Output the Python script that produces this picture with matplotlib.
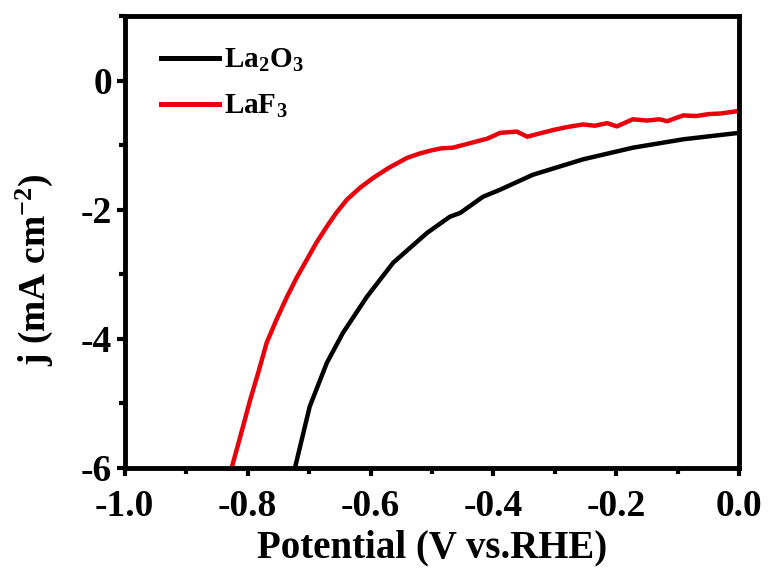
import numpy as np
import matplotlib
matplotlib.use("Agg")
import matplotlib.pyplot as plt
from matplotlib.ticker import MultipleLocator, FormatStrFormatter

plt.rcParams["font.family"] = ["Liberation Serif", "DejaVu Serif"]
plt.rcParams["font.weight"] = "bold"
plt.rcParams["mathtext.fontset"] = "custom"
plt.rcParams["mathtext.rm"] = "Liberation Serif:bold"
plt.rcParams["mathtext.default"] = "rm"
plt.rcParams["axes.unicode_minus"] = False

# La2O3 (black)
la2o3_v = [-0.723, -0.699, -0.671, -0.645, -0.606, -0.563, -0.508, -0.471,
           -0.454, -0.417, -0.389, -0.336, -0.254, -0.173, -0.091, 0.0]
la2o3_j = [-6.00, -5.05, -4.37, -3.91, -3.35, -2.82, -2.36, -2.11,
           -2.05, -1.80, -1.69, -1.46, -1.22, -1.04, -0.91, -0.81]

# LaF3 (red), noisy trace read point by point
laf3_v = [-0.826, -0.811, -0.796, -0.782, -0.769, -0.752, -0.736, -0.720,
          -0.704, -0.688, -0.671, -0.655, -0.638, -0.617, -0.596, -0.570,
          -0.541, -0.520, -0.500, -0.485, -0.466, -0.450, -0.430, -0.410,
          -0.389, -0.375, -0.362, -0.345, -0.325, -0.300, -0.280, -0.254,
          -0.235, -0.215, -0.199, -0.185, -0.173, -0.150, -0.130, -0.117,
          -0.100, -0.091, -0.070, -0.050, -0.030, -0.015, 0.0]
laf3_j = [-6.00, -5.48, -4.95, -4.50, -4.06, -3.68, -3.35, -3.05,
          -2.78, -2.51, -2.26, -2.04, -1.84, -1.66, -1.51, -1.35,
          -1.20, -1.13, -1.08, -1.05, -1.04, -1.00, -0.95, -0.90,
          -0.81, -0.80, -0.79, -0.87, -0.82, -0.76, -0.72, -0.68,
          -0.70, -0.66, -0.71, -0.65, -0.60, -0.62, -0.60, -0.63,
          -0.57, -0.54, -0.55, -0.52, -0.51, -0.49, -0.47]

fig = plt.figure(figsize=(7.7, 5.7), dpi=100)
ax = fig.add_axes([0.162, 0.179, 0.798, 0.793])

ax.plot(la2o3_v, la2o3_j, color="black", lw=3.2, label="La$_2$O$_3$")
ax.plot(laf3_v, laf3_j, color="#e8000b", lw=3.2, label="LaF$_3$")

ax.set_xlim(-1.0, 0.0)
ax.set_ylim(-6, 1)
ax.xaxis.set_major_locator(MultipleLocator(0.2))
ax.xaxis.set_minor_locator(MultipleLocator(0.1))
ax.yaxis.set_major_locator(MultipleLocator(2))
ax.yaxis.set_minor_locator(MultipleLocator(1))
ax.xaxis.set_major_formatter(FormatStrFormatter("%.1f"))

for s in ax.spines.values():
    s.set_linewidth(3.5)
ax.tick_params(which="major", direction="out", length=6, width=3,
               labelsize=27, pad=3, top=False, right=False)
ax.tick_params(axis="x", which="major", pad=9)
ax.tick_params(which="minor", direction="out", length=4, width=3,
               top=False, right=False)
for lab in ax.get_xticklabels() + ax.get_yticklabels():
    lab.set_fontweight("bold")

ax.set_xlabel("Potential (V vs.RHE)", fontsize=28, fontweight="bold")
ax.set_ylabel("j (mA cm$^{-2}$)", fontsize=27, fontweight="bold")
ax.xaxis.set_label_coords(0.5, -0.137)
ax.yaxis.set_label_coords(-0.114, 0.438)

leg = ax.legend(loc="upper left", bbox_to_anchor=(0.045, 0.951), frameon=False,
                fontsize=21, handlelength=2.0, handletextpad=0.17,
                borderaxespad=0.0, labelspacing=0.65, borderpad=0.3)
for t in leg.get_texts():
    t.set_fontweight("bold")
for h in leg.get_lines():
    h.set_linewidth(3.6)

fig.savefig("out.png", dpi=100)
